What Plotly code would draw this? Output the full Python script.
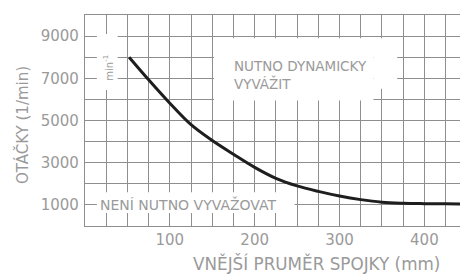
import plotly.graph_objects as go

# Curve: outer coupling diameter (mm) vs speed (1/min)
diameter_mm = [52, 75, 100, 125, 150, 175, 200, 225, 250, 275, 300, 325, 350, 375, 400, 425, 445]
speed_rpm = [8000, 6930, 5820, 4800, 4050, 3400, 2780, 2260, 1900, 1640, 1420, 1250, 1130, 1080, 1060, 1050, 1045]

x_labels = {100: "100", 200: "200", 300: "300", 400: "400"}
y_labels = {1000: "1000", 3000: "3000", 5000: "5000", 7000: "7000", 9000: "9000"}
x_grid_step = 25
y_grid_step = 1000

x_title = "VNĚJŠÍ PRUMĚR SPOJKY (mm)"
y_title = "OTÁČKY (1/min)"
label_upper = ["NUTNO DYNAMICKY", "VYVÁŽIT"]
label_lower = "NENÍ NUTNO VYVAŽOVAT"
unit_label = "min<sup>-1</sup>"

GRID = "#8e8e8e"
TEXT = "#9a9a9a"
FONT = "DejaVu Sans"

x_grid = list(range(0, 450, x_grid_step))
y_grid = list(range(0, 10001, y_grid_step))

fig = go.Figure()
fig.add_trace(go.Scatter(
    x=diameter_mm, y=speed_rpm, mode="lines",
    line=dict(color="#1e1e1e", width=3, shape="spline", smoothing=1.0),
    hoverinfo="skip", showlegend=False,
))

axis_common = dict(
    showline=True, linecolor=GRID, linewidth=1.3,
    showgrid=True, gridcolor=GRID, gridwidth=1.1,
    zeroline=False, ticks="",
    tickfont=dict(family=FONT, size=15, color=TEXT),
)

fig.update_xaxes(
    range=[0, 442], tickmode="array", tickvals=x_grid,
    ticktext=[x_labels.get(v, "") for v in x_grid],
    ticklabelstandoff=0, mirror=True, **axis_common,
)
fig.update_yaxes(
    range=[0, 10000], tickmode="array", tickvals=y_grid,
    ticktext=[y_labels.get(v, "") for v in y_grid],
    ticklabelstandoff=2, **axis_common,
)

# white masks behind in-plot texts
masks = [
    (14, 38.5, 6440, 9100),
    (14, 247, 620, 1600),
    (152, 340, 5950, 8900),
    (340, 368, 6500, 8900),
]
for x0, x1, y0, y1 in masks:
    fig.add_shape(type="rect", xref="x", yref="y", x0=x0, x1=x1, y0=y0, y1=y1,
                  fillcolor="white", line=dict(width=0), layer="between")

fig.add_annotation(x=27.7, y=7480, xref="x", yref="y", text=unit_label, textangle=-90,
                   showarrow=False, font=dict(family=FONT, size=10, color=TEXT))
fig.add_annotation(x=121.5, y=1000, xref="x", yref="y", text=label_lower,
                   xanchor="center", yanchor="middle",
                   showarrow=False, font=dict(family=FONT, size=14, color=TEXT))
fig.add_annotation(x=173, y=7600, xref="x", yref="y", text=label_upper[0],
                   xanchor="left", yanchor="middle",
                   showarrow=False, font=dict(family=FONT, size=13.5, color=TEXT))
fig.add_annotation(x=173, y=6750, xref="x", yref="y", text=label_upper[1],
                   xanchor="left", yanchor="middle",
                   showarrow=False, font=dict(family=FONT, size=13.5, color=TEXT))

# axis titles placed in paper coordinates (plot area: x 85..460, y 15..226 px)
PW, PH = 460 - 85, 275 - 15 - 49
fig.add_annotation(x=(316 - 85) / PW, y=(226 - 263) / PH, xref="paper", yref="paper",
                   text=x_title, showarrow=False, xanchor="center", yanchor="middle",
                   font=dict(family=FONT, size=16.8, color=TEXT))
fig.add_annotation(x=(22 - 85) / PW, y=(226 - 125) / PH, xref="paper", yref="paper",
                   text=y_title, textangle=-90, showarrow=False,
                   xanchor="center", yanchor="middle",
                   font=dict(family=FONT, size=15, color=TEXT))

fig.update_layout(
    width=460, height=275,
    margin=dict(l=85, r=0, t=15, b=49, autoexpand=False),
    plot_bgcolor="white", paper_bgcolor="white",
    showlegend=False,
)

fig.write_html("out.html", config={"displayModeBar": False},
               post_script="document.body.style.margin='0px';")
